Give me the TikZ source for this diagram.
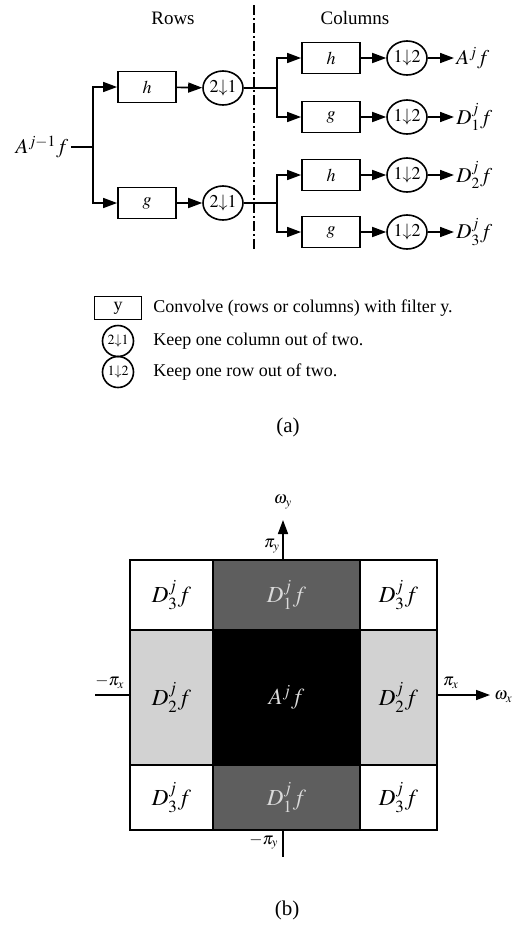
\documentclass[tikz,border=0pt]{standalone}
\usepackage{mathptmx}
\usepackage{fontspec}
\setmainfont{Liberation Serif}
\usetikzlibrary{arrows.meta, positioning, shapes.geometric}
\definecolor{BandDark}{HTML}{5E5E5E}
\definecolor{BandLight}{HTML}{D2D2D2}
\definecolor{TextPale}{HTML}{DADADA}

\begin{document}
\begin{tikzpicture}[x=0.5pt, y=-0.5pt,
        filt/.style={rectangle, draw, line width=0.9pt, minimum width=29pt, minimum height=15.5pt, inner sep=0pt, font=\fontsize{9}{10}\selectfont},
        dcol/.style={ellipse, draw, line width=0.8pt, minimum width=20pt, minimum height=17pt, inner sep=0pt, font=\fontsize{9}{10}\selectfont},
        keybox/.style={filt, minimum width=23.5pt, minimum height=11.5pt},
        keyring/.style={dcol, minimum width=15.5pt, minimum height=15.5pt, font=\fontsize{7}{8}\selectfont},
        keytxt/.style={anchor=west, inner sep=0pt, font=\fontsize{9}{10}\selectfont},
        outl/.style={anchor=west, inner sep=1pt, font=\fontsize{10.5}{12}\selectfont},
        head/.style={font=\fontsize{9.5}{11}\selectfont},
        arr/.style={-{Triangle[length=7pt, width=5pt]}, line width=0.8pt},
        wire/.style={line width=0.8pt},
        divider/.style={line width=1pt, dash pattern=on 5pt off 1.5pt on 1pt off 1.5pt},
        cell/.style={rectangle, draw, line width=0.7pt, inner sep=0pt, font=\fontsize{11.5}{13}\selectfont},
        axlbl/.style={inner sep=0pt, font=\fontsize{8.5}{10}\selectfont}
      ]
        \useasboundingbox (0,0) rectangle (526,927);

        % (a) filter bank
        \node[head] (rows) at (173,18) {Rows};
        \node[head] (cols) at (355,18) {Columns};
        \coordinate (dtop) at (254,5);
        \coordinate (dbot) at (254,250);
        \draw[divider] (dtop) -- (dbot);

        \node[font=\fontsize{10.5}{12}\selectfont, inner sep=1pt] (src) at (42,147) {$A^{j-1}f$};
        \coordinate (s0) at (93,147);
        \node[filt] (rh) at (147,87) {$h$};
        \node[filt] (rg) at (147,203) {$g$};
        \node[dcol] (rdh) at (223,88) {$2{\downarrow}1$};
        \node[dcol] (rdg) at (223,203) {$2{\downarrow}1$};
        \coordinate (sh) at (277,88);
        \coordinate (sg) at (277,203);

        \node[filt] (ch1) at (331,58) {$h$};
        \node[filt] (cg1) at (331,117) {$g$};
        \node[filt] (ch2) at (331,175) {$h$};
        \node[filt] (cg2) at (331,232) {$g$};
        \node[dcol] (cd1) at (407,58) {$1{\downarrow}2$};
        \node[dcol] (cd2) at (407,117) {$1{\downarrow}2$};
        \node[dcol] (cd3) at (407,175) {$1{\downarrow}2$};
        \node[dcol] (cd4) at (407,232) {$1{\downarrow}2$};
        \node[outl] (oA) at (454,58) {$A^j f$};
        \node[outl] (oD1) at (454,117) {$D_1^j f$};
        \node[outl] (oD2) at (454,175) {$D_2^j f$};
        \node[outl] (oD3) at (454,232) {$D_3^j f$};

        \draw[wire] (src) -- (s0);
        \draw[arr] (s0) |- (rh);
        \draw[arr] (s0) |- (rg);
        \draw[arr] (rh) -- (rdh);
        \draw[arr] (rg) -- (rdg);
        \draw[wire] (rdh) -- (sh);
        \draw[wire] (rdg) -- (sg);
        \draw[arr] (sh) |- (ch1);
        \draw[arr] (sh) |- (cg1);
        \draw[arr] (sg) |- (ch2);
        \draw[arr] (sg) |- (cg2);
        \draw[arr] (ch1) -- (cd1);
        \draw[arr] (cg1) -- (cd2);
        \draw[arr] (ch2) -- (cd3);
        \draw[arr] (cg2) -- (cd4);
        \draw[arr] (cd1) -- (oA);
        \draw[arr] (cd2) -- (oD1);
        \draw[arr] (cd3) -- (oD2);
        \draw[arr] (cd4) -- (oD3);

        % key
        \node[keybox] (ky) at (118,308) {y};
        \node[keyring] (kc) at (118,341) {$2{\downarrow}1$};
        \node[keyring] (kr) at (118,372) {$1{\downarrow}2$};
        \node[keytxt] (tky) at (153,308) {Convolve (rows or columns) with filter y.};
        \node[keytxt] (tkc) at (153,341) {Keep one column out of two.};
        \node[keytxt] (tkr) at (153,372) {Keep one row out of two.};
        \node[font=\fontsize{10.5}{12}\selectfont] (capa) at (288,427) {(a)};

        % (b) frequency support
        \node[cell, minimum width=41.5pt, minimum height=35pt] (q11) at (171.5,595) {$D_3^j f$};
        \node[cell, minimum width=73.5pt, minimum height=35pt, fill=BandDark, text=TextPale] (q12) at (286.5,595) {$D_1^j f$};
        \node[cell, minimum width=38.5pt, minimum height=35pt] (q13) at (398.5,595) {$D_3^j f$};
        \node[cell, minimum width=41.5pt, minimum height=67.5pt, fill=BandLight] (q21) at (171.5,697.5) {$D_2^j f$};
        \node[cell, minimum width=73.5pt, minimum height=67.5pt, fill=black, text=TextPale] (q22) at (286.5,697.5) {$A^j f$};
        \node[cell, minimum width=38.5pt, minimum height=67.5pt, fill=BandLight] (q23) at (398.5,697.5) {$D_2^j f$};
        \node[cell, minimum width=41.5pt, minimum height=32.5pt] (q31) at (171.5,797.5) {$D_3^j f$};
        \node[cell, minimum width=73.5pt, minimum height=32.5pt, fill=BandDark, text=TextPale] (q32) at (286.5,797.5) {$D_1^j f$};
        \node[cell, minimum width=38.5pt, minimum height=32.5pt] (q33) at (398.5,797.5) {$D_3^j f$};

        \coordinate (ybase) at (283,560);
        \coordinate (ytip) at (283,520);
        \coordinate (ylow) at (283,830);
        \coordinate (yend) at (283,857);
        \coordinate (xfar) at (95,695);
        \coordinate (xleft) at (130,695);
        \coordinate (xright) at (437,695);
        \coordinate (xtip) at (490,695);
        \draw[arr] (ybase) -- (ytip);
        \draw[wire] (ylow) -- (yend);
        \draw[wire] (xfar) -- (xleft);
        \draw[arr] (xright) -- (xtip);

        \node[axlbl] (wy) at (283,502) {$\omega_y$};
        \node[axlbl] (piy) at (272,546) {$\pi_y$};
        \node[axlbl] (mpiy) at (264,842) {$-\pi_y$};
        \node[axlbl] (mpix) at (110,682) {$-\pi_x$};
        \node[axlbl] (pix) at (451,683) {$\pi_x$};
        \node[axlbl, anchor=west] (wx) at (494,697) {$\omega_x$};
        \node[font=\fontsize{10.5}{12}\selectfont] (capb) at (287,910) {(b)};
      \end{tikzpicture}
\end{document}
